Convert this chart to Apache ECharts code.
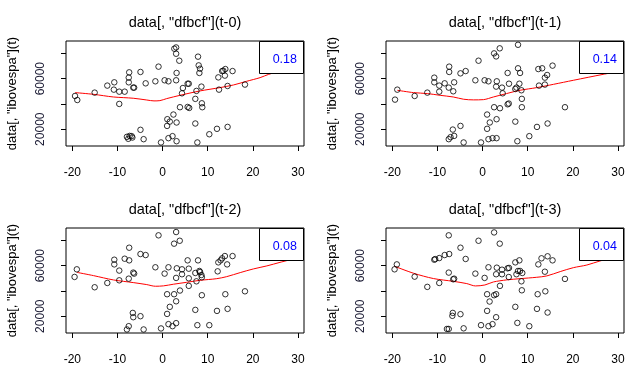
<!DOCTYPE html>
<html>
<head>
<meta charset="utf-8">
<script src="https://cdn.jsdelivr.net/npm/echarts@6/dist/echarts.min.js"></script>
<style>html,body{margin:0;padding:0;background:#fff}#c{width:640px;height:375px}</style>
</head>
<body>
<div id="c"></div>
<script>
// ---- data ----
const panelTitles = ['data[, "dfbcf"](t-0)', 'data[, "dfbcf"](t-1)', 'data[, "dfbcf"](t-2)', 'data[, "dfbcf"](t-3)'];
const corrLabels = ['0.18', '0.14', '0.08', '0.04'];
const yAxisTitle = 'data[, "ibovespa"](t)';
const xTicks = [-20, -10, 0, 10, 20, 30];
const yTicks = [20000, 40000, 60000, 80000];
const yTickLabels = [20000, 60000];

const lag0X = [-19.4,-18.9,-15.05,-12.25,-10.7,-10.8,-9.6,-8.4,-9.6,-7.4,-7.5,-7.5,-6.5,-6.3,-7.9,-7.3,-7.6,-6.7,-6.85,-4.9,-3.75,-4.9,-4.2,-0.9,-1.6,-0.35,0.45,1.3,1.05,1.0,1.6,1.3,2.2,2.4,3.0,2.6,3.0,3.1,3.0,3.1,3.1,3.7,3.85,4.3,4.5,5.55,5.8,5.55,5.9,7.25,7.5,7.25,7.7,7.85,8.0,8.3,8.15,8.6,8.7,8.8,10.35,12.05,12.35,12.5,13.2,13.45,13.9,13.8,14.4,14.4,15.5,18.25];
const lag0Y = [46300,43100,48950,54500,57100,51300,49700,49700,40000,65000,60800,57100,52900,52900,13950,14700,12400,13400,14500,65300,56300,19500,12100,69500,57900,9500,58700,57900,27900,22600,26000,12900,14500,31600,84700,83700,79700,64500,58700,25300,10500,74200,37400,48400,52600,56000,56000,37600,36800,44000,50300,24500,9500,77400,70500,67900,64500,53700,40500,37400,16000,20300,61000,51300,66000,66300,67600,62400,54200,21800,66000,55300];

const lag1X = [-19.4,-18.9,-15.05,-12.25,-10.7,-10.7,-9.6,-9.6,-8.4,-7.4,-7.4,-7.5,-6.5,-6.3,-4.9,-3.75,-7.5,-7.1,-6.6,-6.3,-4.9,-4.2,-1.6,-0.9,-0.35,0.45,1.3,1.0,1.0,1.6,1.3,2.2,3.1,2.55,3.1,2.55,3.0,3.8,3.15,3.0,3.85,4.3,4.45,5.55,5.85,5.8,5.55,7.25,7.25,7.5,7.7,7.85,7.85,8.3,8.15,8.6,8.7,8.7,10.35,12.05,12.35,13.2,12.5,13.8,13.8,14.3,14.4,15.5,18.25];
const lag1Y = [43400,51300,46300,48950,60800,57100,54500,49700,56300,69500,65300,52900,50000,57100,64200,66000,12100,13700,19700,14700,22600,9500,58700,74200,9500,58700,57900,31600,20300,25300,12100,12900,12900,37400,27900,80000,77600,84000,57900,53700,36600,52900,48400,64500,56000,40300,39700,26000,51800,52900,10500,86800,68200,64500,56000,50800,44000,37400,14500,21800,67600,68200,54500,55300,60800,62900,24500,70300,37400];

const lag2X = [-19.5,-19.0,-15.05,-12.25,-10.7,-10.7,-9.6,-9.6,-8.4,-7.4,-7.4,-7.5,-6.5,-6.3,-4.9,-3.75,-6.6,-6.5,-7.5,-7.9,-4.9,-4.2,-1.6,-0.9,-0.35,0.45,1.3,1.0,1.0,1.6,1.3,2.2,3.0,2.55,3.0,2.55,3.0,3.8,3.15,3.0,3.85,4.3,4.3,5.55,5.8,5.8,5.8,7.25,7.25,7.5,7.7,7.85,8.15,8.3,8.6,8.7,8.7,10.35,12.05,12.35,12.85,13.2,12.2,13.8,14.3,13.9,14.4,15.5,18.25];
const lag2Y = [51060,57100,42900,46300,64700,61000,56100,48400,65500,74200,64200,49700,54500,53700,69200,68400,22600,19200,12100,9500,20000,9500,58700,84000,10300,53700,58700,37400,21800,27400,13700,12100,14500,37400,31800,77400,86600,79700,57900,50300,40300,53200,57100,64200,57600,50000,44000,25000,54200,47600,12900,64200,55800,55000,52600,50800,36600,12900,24200,62600,64200,65800,55500,67600,61000,37400,25800,67600,39700];

const lag3X = [-19.5,-19.0,-15.05,-12.25,-10.7,-10.5,-9.6,-9.6,-8.4,-7.4,-7.5,-7.5,-6.5,-6.3,-4.9,-3.75,-6.6,-6.7,-7.9,-7.5,-4.9,-4.2,-1.6,-0.9,-0.35,0.45,1.3,1.0,1.0,1.55,1.3,2.2,3.0,2.55,3.0,2.55,3.8,3.15,3.0,3.85,4.3,4.3,5.55,5.85,5.8,7.25,7.25,7.5,7.7,8.15,7.85,8.3,8.6,8.8,8.7,10.35,12.05,12.35,13.05,12.2,13.8,13.9,14.4,14.4,15.5,18.25];
const lag3Y = [57100,61000,51300,43200,64700,65200,66000,46300,68400,69200,84000,54500,49200,49700,74200,65300,22600,20300,9900,9900,21600,10400,53700,79700,12900,50300,58700,37400,24200,31600,12100,13700,19200,36600,37400,86300,77400,58400,53200,44000,56800,53200,57900,58200,51000,27400,62600,53200,14700,64200,55800,55800,47600,54200,40500,12100,25800,61000,65800,37400,55200,39700,67400,22900,64200,49500];

// smoothed (lowess) curves
const fit0X = [-19.4,-15.3,-10.9,-6.5,-3.5,-1.9,-0.6,0.9,3.85,8.3,12.7,15.7,18.6,21.6,23.5,29.2];
const fit0Y = [48950,47600,45500,44500,43100,42400,42600,44200,46800,50300,52900,55000,57900,60800,63400,69000];
const fit1X = [-18.9,-15.3,-12.25,-9.4,-6.5,-4.2,-2,0.2,2.4,5.3,8.3,12,15.7,20.1,26.7,29.2];
const fit1Y = [50800,48950,48200,46800,45500,43700,43200,43400,45500,48200,50800,52900,55500,58700,63400,65000];
const fit2X = [-19.0,-15.3,-10.9,-6.5,-3.5,-1.6,0.2,2.4,5.3,8.3,12,14.2,17.2,20.1,23.1,26,29.2];
const fit2Y = [54700,52100,48700,46600,45000,43700,44000,45300,46800,48400,49700,51300,54500,57400,59800,62600,65500];
const fit3X = [-19.5,-15.3,-10.9,-6.5,-3.5,-1.6,0.5,2.4,5.3,8.3,12,14.2,17.2,20.1,23.1,26,29.2];
const fit3Y = [59500,54000,49800,47600,45800,43950,44700,47100,48700,49700,50800,51850,55300,58400,60500,63700,66500];

const pointsX = [lag0X, lag1X, lag2X, lag3X];
const pointsY = [lag0Y, lag1Y, lag2Y, lag3Y];
const fitsX = [fit0X, fit1X, fit2X, fit3X];
const fitsY = [fit0Y, fit1Y, fit2Y, fit3Y];

// ---- layout ----
const FONT = '"Liberation Sans", Arial, Helvetica, sans-serif';
const boxes = [
  {left: 66, top: 41}, {left: 386, top: 41},
  {left: 66, top: 228}, {left: 386, top: 228}
];
const BW = 238, BH = 105;

const zip = (a, b) => a.map((v, i) => [v, b[i]]);

const grid = [], xAxis = [], yAxis = [], series = [], graphic = [];
boxes.forEach((b, i) => {
  grid.push({left: b.left, top: b.top, width: BW, height: BH, show: true,
    borderColor: '#000', borderWidth: 1, backgroundColor: 'transparent', containLabel: false});
  xAxis.push({type: 'value', gridIndex: i, min: -21.4, max: 31.33, position: 'bottom',
    axisLine: {show: false, onZero: false}, splitLine: {show: false},
    axisTick: {show: true, customValues: xTicks, length: 5, inside: false, lineStyle: {color: '#000', width: 1}},
    axisLabel: {customValues: xTicks, margin: 21, fontSize: 12, color: '#000', fontFamily: FONT,
      formatter: v => String(v)}
  });
  yAxis.push({type: 'value', gridIndex: i, min: 6700, max: 89800, position: 'left',
    axisLine: {show: false, onZero: false}, splitLine: {show: false},
    axisTick: {show: true, customValues: yTicks, length: 5, inside: false, lineStyle: {color: '#000', width: 1}},
    axisLabel: {customValues: yTickLabels, rotate: 90, margin: 19, fontSize: 12, color: '#1a1a33', fontFamily: FONT,
      formatter: v => String(v)},
    name: yAxisTitle, nameLocation: 'middle', nameGap: 47, nameRotate: 90,
    nameTextStyle: {fontSize: 13, color: '#000', fontFamily: FONT}
  });
  series.push({type: 'scatter', xAxisIndex: i, yAxisIndex: i, data: zip(pointsX[i], pointsY[i]),
    symbol: 'circle', symbolSize: 5.5,
    itemStyle: {color: 'rgba(0,0,0,0)', borderColor: '#000', borderWidth: 1}, z: 3});
  series.push({type: 'line', xAxisIndex: i, yAxisIndex: i, data: zip(fitsX[i], fitsY[i]),
    smooth: 0.3, showSymbol: false, lineStyle: {color: '#ff0000', width: 1}, z: 2});
  // panel title
  graphic.push({type: 'text', x: b.left + BW / 2, y: b.top - 18.5, z: 50,
    style: {text: panelTitles[i], font: '14.5px ' + FONT, fill: '#000', align: 'center', verticalAlign: 'middle'}});
  // legend box with correlation value
  graphic.push({type: 'rect', z: 100,
    shape: {x: b.left + BW - 44.5, y: b.top + 0.5, width: 44, height: 32},
    style: {fill: '#fff', stroke: '#000', lineWidth: 1}});
  graphic.push({type: 'text', z: 101, x: b.left + BW - 7, y: b.top + 18.5,
    style: {text: corrLabels[i], font: '12.5px ' + FONT, fill: '#0000ff', align: 'right', verticalAlign: 'middle'}});
});

const chart = echarts.init(document.getElementById('c'), null, {renderer: 'canvas'});
chart.setOption({
  animation: false,
  backgroundColor: '#fff',
  textStyle: {fontFamily: FONT},
  grid, xAxis, yAxis, series, graphic
});
</script>
</body>
</html>
